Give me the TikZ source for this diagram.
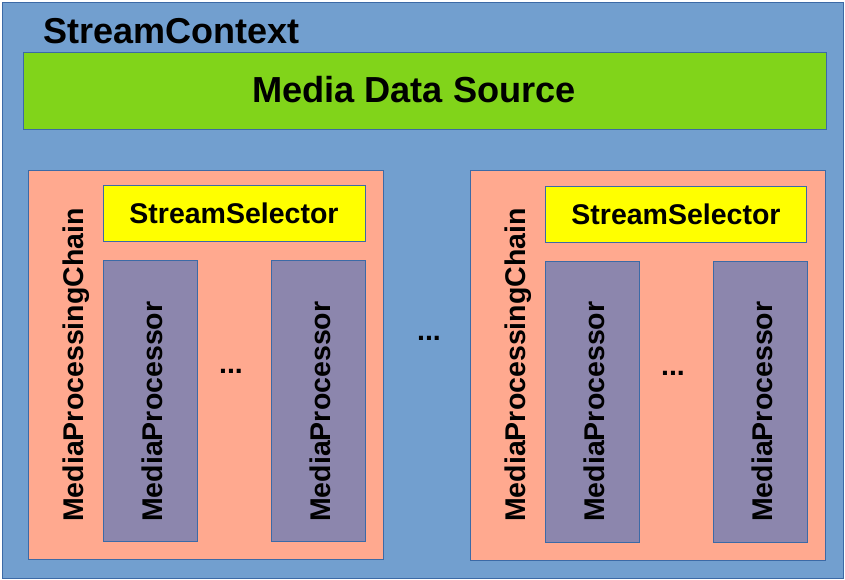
\documentclass[tikz,border=0pt]{standalone}
\usepackage{fontspec}
\setmainfont{Liberation Sans}
\definecolor{ctxblue}{HTML}{729FCF}
\definecolor{edgeblue}{HTML}{3C6AA6}
\definecolor{srcgreen}{HTML}{81D41A}
\definecolor{chainsalmon}{HTML}{FFA98F}
\definecolor{procpurple}{HTML}{8C86AD}
\definecolor{selyellow}{HTML}{FFFF00}
\begin{document}
\begin{tikzpicture}[x=1pt,y=-1pt,
  box/.style={draw=edgeblue, line width=0.9pt, inner sep=0pt, outer sep=0pt, anchor=north west},
  lbl/.style={inner sep=0pt, font=\bfseries},
  vlbl/.style={inner sep=0pt, font=\fontsize{28.5}{30}\selectfont\bfseries, rotate=90, anchor=base west},
  dots/.style={inner sep=0pt, font=\fontsize{28.5}{30}\selectfont\bfseries, anchor=base}]
\useasboundingbox (0,0) rectangle (845,580);
% outer context
\node[box, fill=ctxblue, minimum width=841pt, minimum height=576pt] (ctx) at (2,2) {};
\node[lbl, font=\fontsize{36}{40}\selectfont\bfseries, anchor=base west] (ctxlbl) at (43,44) {StreamContext};
% media data source
\node[box, fill=srcgreen, minimum width=803pt, minimum height=77pt] (src) at (23,52) {};
\node[lbl, font=\fontsize{36.2}{40}\selectfont\bfseries, anchor=base] (srclbl) at (414,103) {Media Data Source};
% left chain
\node[box, fill=chainsalmon, minimum width=355pt, minimum height=389pt] (chainA) at (28,170) {};
\node[vlbl] (chainAlbl) at (83,522) {MediaProcessingChain};
\node[box, fill=selyellow, minimum width=262pt, minimum height=56pt] (selA) at (103,185) {};
\node[lbl, font=\fontsize{28.5}{30}\selectfont\bfseries, anchor=base] (selAlbl) at (234,223) {StreamSelector};
\node[box, fill=procpurple, minimum width=94pt, minimum height=281pt] (pA1) at (103,260) {};
\node[vlbl] (pA1lbl) at (162,522) {MediaProcessor};
\node[box, fill=procpurple, minimum width=94pt, minimum height=281pt] (pA2) at (271,260) {};
\node[vlbl] (pA2lbl) at (330,522) {MediaProcessor};
\node[dots] (dotsA) at (231,373) {...};
% middle dots
\node[dots] (dotsM) at (429,340) {...};
% right chain
\node[box, fill=chainsalmon, minimum width=355pt, minimum height=390pt] (chainB) at (470,170) {};
\node[vlbl] (chainBlbl) at (525,522) {MediaProcessingChain};
\node[box, fill=selyellow, minimum width=261pt, minimum height=56pt] (selB) at (545,186) {};
\node[lbl, font=\fontsize{28.5}{30}\selectfont\bfseries, anchor=base] (selBlbl) at (676,224) {StreamSelector};
\node[box, fill=procpurple, minimum width=94pt, minimum height=281pt] (pB1) at (545,261) {};
\node[vlbl] (pB1lbl) at (604,522) {MediaProcessor};
\node[box, fill=procpurple, minimum width=94pt, minimum height=281pt] (pB2) at (713,261) {};
\node[vlbl] (pB2lbl) at (772,522) {MediaProcessor};
\node[dots] (dotsB) at (673,375) {...};
\end{tikzpicture}
\end{document}
